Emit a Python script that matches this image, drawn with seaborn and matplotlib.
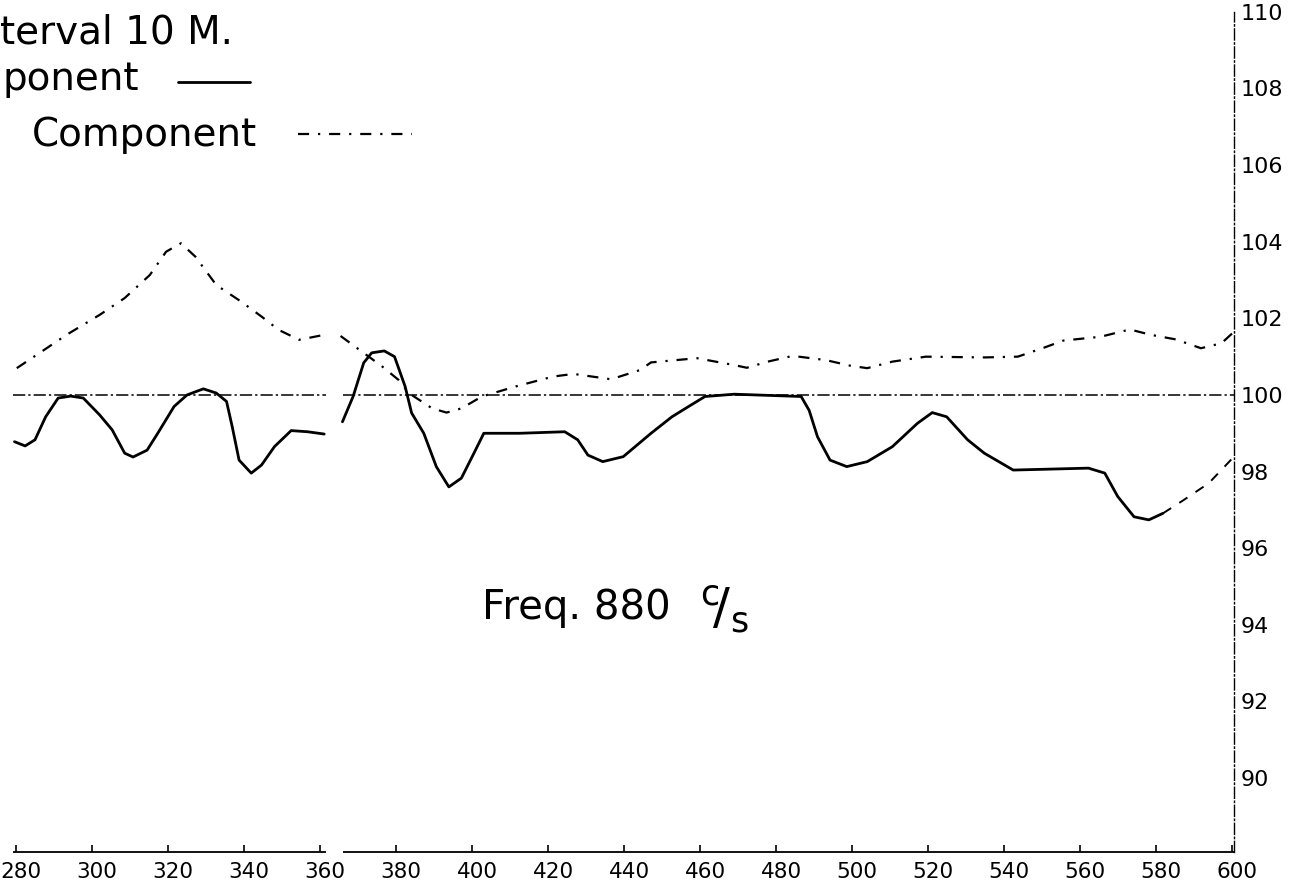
import matplotlib
matplotlib.use("Agg")
import matplotlib.pyplot as plt
from matplotlib.lines import Line2D
from matplotlib.transforms import ScaledTranslation
import seaborn as sns

# ---------------- data ----------------
x_ticks = [280, 300, 320, 340, 360, 380, 400, 420, 440, 460, 480, 500, 520, 540, 560, 580, 600]
y_ticks = [90, 92, 94, 96, 98, 100, 102, 104, 106, 108, 110]

# solid component, before the break
solid_a_x = [279.6, 282.4, 285.0, 287.8, 291.1, 294.4, 297.7, 302.0, 305.3, 308.6, 310.8, 314.5, 317.3,
             321.6, 325.0, 329.3, 332.7, 335.4, 336.9, 338.7, 341.9, 344.6, 348.0, 352.4, 356.7, 361.1]
solid_a_y = [98.78, 98.67, 98.83, 99.43, 99.92, 99.97, 99.92, 99.48, 99.09, 98.48, 98.38, 98.56, 99.0,
             99.7, 100.0, 100.16, 100.05, 99.83, 99.17, 98.3, 97.96, 98.17, 98.65, 99.07, 99.04, 98.98]
# solid component, after the break
solid_b_x = [365.9, 368.7, 371.5, 373.6, 376.9, 379.6, 382.4, 384.1, 387.3, 390.6,
             393.9, 397.2, 400.5, 403.1, 412.5, 424.4, 427.8, 430.5, 434.4, 439.8,
             447.1, 452.6, 457.0, 461.3, 469.0, 486.6, 488.7, 490.9, 494.2, 498.6,
             504.0, 510.6, 517.2, 521.1, 524.9, 530.4, 534.8, 542.4, 562.2, 566.5,
             569.9, 574.2, 578.1, 581.8]
solid_b_y = [99.3, 99.96, 100.84, 101.1, 101.15, 101.0, 100.22, 99.53, 99.0, 98.13,
             97.6, 97.83, 98.48, 99.0, 99.0, 99.04, 98.83, 98.43, 98.26, 98.39,
             99.0, 99.43, 99.7, 99.96, 100.02, 99.96, 99.6, 98.91, 98.3, 98.13,
             98.26, 98.65, 99.26, 99.54, 99.43, 98.83, 98.48, 98.04, 98.09, 97.96,
             97.35, 96.82, 96.74, 96.91]
# faint (dashed-looking) tail of the solid component
solid_tail_x = [581.8, 587.3, 593.9, 600.5]
solid_tail_y = [96.91, 97.26, 97.7, 98.39]

# dash-dot component, before the break
dd_a_x = [280.2, 286.7, 293.3, 302.0, 308.6, 315.2, 319.5, 323.4, 327.2, 332.7, 339.2, 344.7, 349.1, 354.5, 361.1]
dd_a_y = [100.7, 101.13, 101.57, 102.09, 102.53, 103.13, 103.74, 103.96, 103.61, 102.87, 102.44, 102.04,
          101.7, 101.44, 101.57]
# dash-dot component, after the break
dd_b_x = [365.4, 369.8, 376.4, 380.7, 383.5, 389.5, 393.3, 397.2, 402.6, 411.4,
          421.3, 426.7, 436.6, 444.2, 447.1, 459.2, 469.0, 472.3, 477.8, 484.4,
          493.1, 499.7, 504.0, 510.6, 519.4, 534.8, 543.6, 550.1, 555.6, 565.4,
          573.1, 578.6, 585.2, 591.8, 597.2, 600.5]
dd_b_y = [101.54, 101.22, 100.74, 100.39, 100.04, 99.65, 99.54, 99.65, 99.96, 100.22,
          100.48, 100.55, 100.41, 100.65, 100.85, 100.96, 100.78, 100.71, 100.87, 101.02,
          100.91, 100.76, 100.7, 100.87, 101.0, 100.98, 101.0, 101.22, 101.42, 101.52,
          101.71, 101.57, 101.45, 101.22, 101.35, 101.65]

reference_level = 100
x_range = (279.0, 600.5)
y_range = (88.07, 110.31)
break_range = (361.5, 366.0)

# ---------------- figure ----------------
W, H = 1302, 885
sns.set_style("white")
plt.rcParams["font.family"] = ["DejaVu Sans"]
plt.rcParams["text.color"] = "black"
plt.rcParams["xtick.color"] = "black"
plt.rcParams["ytick.color"] = "black"
plt.rcParams["mathtext.default"] = "regular"

fig = plt.figure(figsize=(W / 100, H / 100), dpi=100)
ax = fig.add_axes([12.2 / W, 33 / H, (1234 - 12.2) / W, 852 / H])
ax.set_facecolor("white")

dashdot = (0, (5, 4, 1, 4))
kw = dict(ax=ax, color="black", sort=False, estimator=None, legend=False)
sns.lineplot(x=solid_a_x, y=solid_a_y, lw=2.0, **kw)
sns.lineplot(x=solid_b_x, y=solid_b_y, lw=2.0, **kw)
sns.lineplot(x=solid_tail_x, y=solid_tail_y, lw=1.4, linestyle=(0, (5, 5)), **kw)
sns.lineplot(x=dd_a_x, y=dd_a_y, lw=1.6, linestyle=dashdot, **kw)
sns.lineplot(x=dd_b_x, y=dd_b_y, lw=1.6, linestyle=dashdot, **kw)

seg_starts = [x_range[0] + 0.3, break_range[1]]
seg_ends = [break_range[0], x_range[1]]
# reference line at 100 with the break
ax.hlines([reference_level] * 2, seg_starts, seg_ends,
          color="black", lw=1.1, linestyle=(0, (8, 2, 1.5, 2)))
# bottom axis line with the break
ax.hlines([y_range[0]] * 2, seg_starts, seg_ends, color="black", lw=1.3, clip_on=False)

ax.set_xlim(*x_range)
ax.set_ylim(*y_range)

for s in ["left", "top", "bottom"]:
    ax.spines[s].set_visible(False)
ax.spines["right"].set_visible(True)
ax.spines["right"].set_color("black")
ax.spines["right"].set_linewidth(1.0)
ax.spines["right"].set_linestyle((0, (8, 2, 1, 2)))
ax.spines["right"].set_bounds(y_range[0], 110)

ax.yaxis.tick_right()
ax.set_yticks(y_ticks)
ax.set_yticklabels([str(v) for v in y_ticks])
ax.tick_params(axis="y", length=0, pad=5, labelsize=16, colors="black")

ax.set_xticks(x_ticks)
ax.set_xticklabels([str(v) for v in x_ticks])
ax.tick_params(axis="x", direction="in", length=5, width=1.2, pad=7, labelsize=15.5,
               colors="black", bottom=True)
off = ScaledTranslation(5 / 100, 0, fig.dpi_scale_trans)
for lab in ax.get_xticklabels():
    lab.set_transform(lab.get_transform() + off)
ax.set_xlabel("")
ax.set_ylabel("")
ax.grid(False)

# ---------------- texts (top-left key, cropped in the reference) ----------------
def fx(px):
    return px / W

def fy(py):
    return 1 - py / H

fig.text(fx(0), fy(43), "terval 10 M.", fontsize=28, va="baseline", ha="left", color="black")
fig.text(fx(2), fy(90), "ponent", fontsize=28, va="baseline", ha="left", color="black")
fig.add_artist(Line2D([fx(178), fx(250)], [fy(82), fy(82)], color="black", lw=2.0))
fig.text(fx(32), fy(146), "Component", fontsize=28, va="baseline", ha="left", color="black")
fig.add_artist(Line2D([fx(298), fx(412)], [fy(134), fy(134)], color="black", lw=1.6,
                      linestyle=dashdot))

# frequency annotation
fig.text(fx(482), fy(619), "Freq. 880", fontsize=29, va="baseline", ha="left", color="black")
fig.text(fx(700), fy(624), r"$^{c}\!/_{s}$", fontsize=36, va="baseline", ha="left", color="black")

fig.savefig("out.png", dpi=100, facecolor="white")
